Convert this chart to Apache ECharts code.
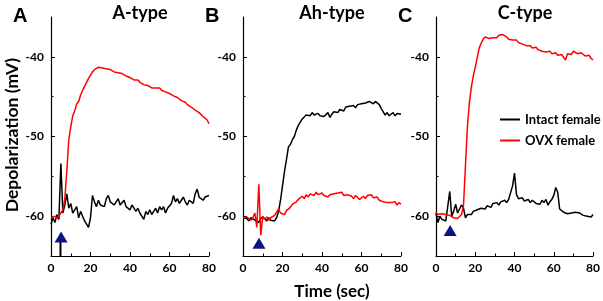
<!DOCTYPE html>
<html>
<head>
<meta charset="utf-8">
<script src="https://cdn.jsdelivr.net/npm/echarts@6/dist/echarts.min.js"></script>
<style>
html, body { margin: 0; padding: 0; background: #fff; }
#chart { width: 603px; height: 301px; }
</style>
</head>
<body>
<div id="chart"></div>
<script>
var time = [0,1,2,3,4,5,6,7,8,9,10,11,12,13,14,15,16,17,18,19,20,21,22,23,24,25,26,27,28,29,30,
    31,32,33,34,35,36,37,38,39,40,41,42,43,44,45,46,47,48,49,50,51,52,53,54,55,56,57,58,59,60,
    61,62,63,64,65,66,67,68,69,70,71,72,73,74,75,76,77,78,79,80];

// panel A
var intactA = [-61.0,-60.2,-60.8,-59.8,-60.4,-53.4,-59.6,-58.6,-57.2,-59.0,-58.4,-59.6,-59.2,-58.8,-60.2,-59.4,
    -60.0,-60.6,-60.8,-61.4,-60.2,-57.4,-58.2,-58.8,-58.0,-58.6,-58.4,-58.8,-57.8,-57.4,-58.2,
    -58.0,-58.6,-58.2,-57.8,-58.6,-58.4,-58.0,-58.8,-58.6,-59.2,-58.6,-59.0,-59.4,-59.0,-59.6,
    -59.8,-60.4,-59.4,-59.8,-59.2,-59.8,-59.4,-59.0,-59.6,-58.8,-59.2,-58.8,-59.6,-59.0,-58.8,
    -58.4,-57.4,-58.2,-57.8,-58.4,-58.0,-57.6,-58.2,-58.6,-58.0,-57.8,-58.4,-57.2,-56.6,-57.6,
    -57.4,-58.0,-57.6,-57.8,-57.4];
var ovxA = [-60.2,-60.4,-60.0,-60.3,-60.1,-59.6,-59.2,-57.8,-54.4,-50.4,-48.8,-47.4,-46.8,-45.9,-45.6,-44.8,
    -44.2,-43.7,-43.2,-42.7,-42.3,-41.9,-41.6,-41.5,-41.3,-41.2,-41.4,-41.3,-41.5,-41.4,-41.6,
    -41.7,-41.9,-41.7,-42.0,-41.9,-42.1,-42.3,-42.4,-42.3,-42.6,-42.7,-42.9,-43.0,-42.9,-43.2,
    -43.3,-43.5,-43.3,-43.6,-43.7,-43.9,-43.7,-43.9,-44.1,-43.9,-44.2,-44.3,-44.4,-44.6,-44.6,
    -44.8,-44.9,-45.1,-45.1,-45.3,-45.5,-45.6,-45.7,-46.0,-46.1,-46.3,-46.4,-46.7,-46.8,-47.0,
    -47.2,-47.5,-47.6,-47.9,-48.4];

// panel B
var intactB = [-60.2,-60.4,-60.3,-60.6,-60.2,-60.4,-60.5,-60.3,-60.8,-60.2,-60.4,-60.3,-60.6,-60.2,-60.5,-60.3,
    -60.6,-60.2,-59.4,-58.0,-56.2,-54.4,-52.9,-51.3,-51.0,-50.4,-50.0,-49.2,-48.6,-48.2,-47.8,
    -47.6,-47.3,-47.1,-47.4,-47.0,-47.3,-47.5,-47.1,-47.4,-47.2,-47.5,-47.3,-47.0,-47.6,-47.2,
    -46.9,-46.7,-47.0,-46.6,-46.5,-46.8,-46.3,-46.5,-46.2,-46.3,-46.1,-46.4,-46.0,-46.2,-45.9,
    -46.1,-45.8,-45.9,-45.6,-45.7,-45.9,-45.6,-45.8,-46.0,-46.5,-46.9,-47.3,-47.0,-47.4,-47.2,
    -47.0,-47.4,-47.1,-47.3,-47.2];
var ovxB = [-60.2,-60.4,-60.1,-60.3,-60.5,-60.2,-59.6,-61.4,-56.0,-62.4,-60.0,-60.4,-60.1,-60.5,-60.2,-60.3,
    -59.9,-60.1,-59.1,-59.6,-59.5,-59.8,-59.3,-59.1,-58.9,-58.5,-58.7,-58.2,-57.9,-58.1,-57.5,
    -57.8,-57.3,-57.6,-57.2,-57.1,-57.4,-57.0,-57.3,-57.5,-57.1,-57.4,-57.2,-57.6,-57.3,-57.5,
    -57.2,-57.4,-57.1,-57.3,-57.0,-57.4,-57.6,-57.3,-57.5,-57.5,-57.8,-57.4,-57.6,-57.9,-57.7,
    -57.5,-57.8,-57.4,-57.6,-57.3,-57.7,-57.9,-57.6,-58.0,-57.9,-58.2,-58.0,-58.3,-58.1,-58.3,
    -58.5,-58.2,-58.6,-58.3,-58.5];

// panel C
var intactC = [-59.6,-60.8,-60.0,-60.4,-60.2,-60.6,-60.8,-56.9,-60.0,-59.4,-58.5,-59.6,-59.8,-58.6,-59.0,-60.2,
    -59.8,-59.6,-59.8,-59.4,-59.5,-59.2,-59.4,-59.0,-58.9,-59.1,-58.7,-58.6,-58.9,-58.4,-58.5,
    -58.3,-58.6,-58.2,-58.4,-58.0,-58.3,-57.9,-58.1,-56.2,-54.6,-57.3,-57.8,-58.0,-57.7,-58.1,
    -58.2,-57.9,-58.3,-58.0,-58.1,-58.4,-58.3,-58.5,-58.0,-58.3,-57.9,-58.6,-58.2,-57.9,-57.4,
    -56.4,-57.0,-59.1,-59.3,-59.5,-59.4,-59.7,-59.5,-59.6,-59.8,-59.5,-59.7,-59.6,-59.8,-59.9,
    -59.7,-60.0,-59.8,-60.1,-59.8];
var ovxC = [-59.5,-59.8,-59.6,-59.7,-59.5,-59.8,-59.7,-59.9,-60.0,-60.2,-60.1,-60.3,-60.2,-59.8,-58.7,-53.7,
    -48.8,-45.8,-43.8,-42.4,-41.3,-40.1,-38.9,-38.3,-37.8,-37.5,-37.4,-37.7,-37.5,-37.6,-37.4,
    -37.6,-37.3,-37.5,-37.2,-37.2,-37.5,-37.8,-37.6,-37.9,-38.0,-37.9,-38.2,-38.1,-38.4,-38.3,
    -38.6,-38.8,-38.6,-38.9,-39.0,-38.8,-39.1,-39.0,-39.3,-39.1,-39.4,-39.5,-39.3,-39.6,-39.7,
    -39.5,-39.8,-39.6,-39.7,-39.9,-40.4,-39.6,-39.4,-39.7,-39.3,-39.5,-39.6,-39.8,-39.5,-39.7,
    -39.9,-40.1,-39.8,-40.2,-40.4];

var stimTime = [5.1, 8.1, 7.2];
var stimLevel = [-62.6, -63.4, -61.8];

var panelLetters = ['A', 'B', 'C'];
var panelTitles = ['A-type', 'Ah-type', 'C-type'];
var yLabels = [-60, -50, -40];
var yMinor = [-55, -45];

var intact = [intactA, intactB, intactC];
var ovx = [ovxA, ovxB, ovxC];
var gridLeft = [51, 243, 436];

function pairs(vals) {
    return vals.map(function (v, i) { return [time[i], v]; });
}

var font = 'Lato, "Open Sans", sans-serif';
var grids = [], xAxes = [], yAxes = [], series = [], titles = [];

for (var p = 0; p < 3; p++) {
    grids.push({ left: gridLeft[p], top: 17, width: 158, height: 239 });
    xAxes.push({
        type: 'value', gridIndex: p, min: 0, max: 80, interval: 20,
        axisLine: { lineStyle: { color: '#000', width: 1.2 } },
        axisTick: { inside: true, length: 4, lineStyle: { color: '#000' } },
        minorTick: { show: true, splitNumber: 2, length: 2.5, lineStyle: { color: '#000' } },
        splitLine: { show: false },
        axisLabel: { color: '#000', fontWeight: 'bold', fontSize: 12, fontFamily: font, margin: 6 }
    });
    yAxes.push({
        type: 'value', gridIndex: p, min: -65, max: -35, position: 'left',
        axisLine: { show: true, lineStyle: { color: '#000', width: 1.2 } },
        axisTick: { inside: true, length: 4, customValues: yLabels, lineStyle: { color: '#000' } },
        splitLine: { show: false },
        axisLabel: { customValues: yLabels, color: '#000', fontWeight: 'bold', fontSize: 12, fontFamily: font, margin: 7 }
    });
    yAxes.push({
        type: 'value', gridIndex: p, min: -65, max: -35, position: 'left', offset: 0,
        axisLine: { show: false },
        axisTick: { inside: true, length: 2.5, customValues: yMinor, lineStyle: { color: '#000' } },
        axisLabel: { show: false },
        splitLine: { show: false }
    });

    series.push({
        name: 'Intact female', type: 'line', xAxisIndex: p, yAxisIndex: p * 2,
        data: pairs(intact[p]), showSymbol: false, symbol: 'none',
        lineStyle: { color: '#000', width: 1.5 }, itemStyle: { color: '#000' },
        animation: false, z: p === 1 ? 3 : 2
    });
    series.push({
        name: 'OVX female', type: 'line', xAxisIndex: p, yAxisIndex: p * 2,
        data: pairs(ovx[p]), showSymbol: false, symbol: 'none',
        lineStyle: { color: '#ff0000', width: 1.5 }, itemStyle: { color: '#ff0000' },
        animation: false, z: p === 1 ? 4 : 3
    });
    series.push({
        type: 'scatter', xAxisIndex: p, yAxisIndex: p * 2,
        data: [[stimTime[p], stimLevel[p]]],
        symbol: 'triangle', symbolSize: [13, 11],
        itemStyle: { color: '#0f1287', opacity: 1 }, animation: false, z: 5
    });

    titles.push({
        text: panelLetters[p], left: gridLeft[p] - 43, top: 1,
        textStyle: { fontFamily: '"Liberation Sans", Arial, sans-serif', fontWeight: 'bold', fontSize: 20, color: '#000' }
    });
    titles.push({
        text: panelTitles[p], left: gridLeft[p] + 84, top: -1, textAlign: 'center',
        textStyle: { fontFamily: font, fontWeight: 'bold', fontSize: 18, color: '#000' }
    });
}

// stimulus artefact under the triangle in panel A
series.push({
    type: 'line', xAxisIndex: 0, yAxisIndex: 0,
    data: [[stimTime[0] - 0.3, stimLevel[0] - 0.5], [stimTime[0] - 0.3, -65]],
    showSymbol: false, symbol: 'none',
    lineStyle: { color: '#000', width: 2 }, animation: false, z: 4
});

titles.push({
    text: 'Time (sec)', left: 327, top: 278, textAlign: 'center',
    textStyle: { fontFamily: font, fontWeight: 'bold', fontSize: 17, color: '#000' }
});

var chart = echarts.init(document.getElementById('chart'));
chart.setOption({
    animation: false,
    title: titles,
    grid: grids,
    xAxis: xAxes,
    yAxis: yAxes,
    legend: {
        data: ['Intact female', 'OVX female'],
        orient: 'vertical', left: 495, top: 108,
        icon: 'rect', itemWidth: 20, itemHeight: 2, itemGap: 8,
        textStyle: { fontFamily: font, fontWeight: 'bold', fontSize: 13, color: '#000' },
        selectedMode: false
    },
    graphic: [{
        type: 'text', left: 3, top: 58, rotation: Math.PI / 2,
        style: { text: 'Depolarization (mV)', fontFamily: font, fontWeight: 'bold', fontSize: 17.5, fill: '#000' }
    }],
    series: series
});
</script>
</body>
</html>
